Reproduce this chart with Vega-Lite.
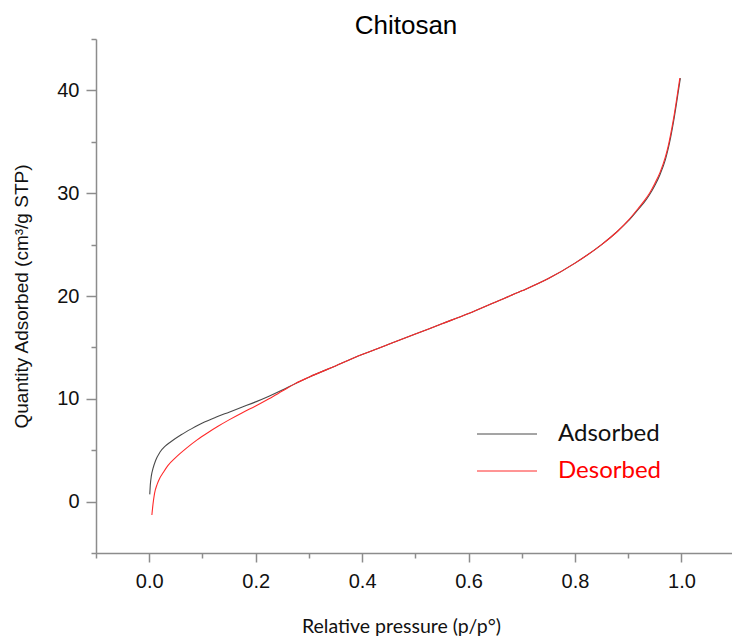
{
  "$schema": "https://vega.github.io/schema/vega-lite/v6.json",
  "width": 636,
  "height": 514,
  "autosize": {"type": "none"},
  "padding": {"left": 96, "top": 39, "right": 0, "bottom": 86},
  "background": "white",
  "title": {"text": "Chitosan", "font": "Liberation Sans", "fontSize": 26, "fontWeight": "normal", "color": "#000000", "anchor": "middle", "dx": -8, "offset": -10},
  "config": {"view": {"stroke": null}},
  "data": {"values": [
    {"series": "Adsorbed", "x": 0.001, "y": 0.7},
    {"series": "Adsorbed", "x": 0.002, "y": 1.6},
    {"series": "Adsorbed", "x": 0.004, "y": 2.5},
    {"series": "Adsorbed", "x": 0.007, "y": 3.2},
    {"series": "Adsorbed", "x": 0.012, "y": 4.0},
    {"series": "Adsorbed", "x": 0.02, "y": 4.8},
    {"series": "Adsorbed", "x": 0.03, "y": 5.4},
    {"series": "Adsorbed", "x": 0.04, "y": 5.8},
    {"series": "Adsorbed", "x": 0.06, "y": 6.5},
    {"series": "Adsorbed", "x": 0.08, "y": 7.1},
    {"series": "Adsorbed", "x": 0.1, "y": 7.65},
    {"series": "Adsorbed", "x": 0.125, "y": 8.2},
    {"series": "Adsorbed", "x": 0.15, "y": 8.7},
    {"series": "Adsorbed", "x": 0.175, "y": 9.2},
    {"series": "Adsorbed", "x": 0.2, "y": 9.7},
    {"series": "Adsorbed", "x": 0.225, "y": 10.25},
    {"series": "Adsorbed", "x": 0.25, "y": 10.85},
    {"series": "Adsorbed", "x": 0.275, "y": 11.5},
    {"series": "Adsorbed", "x": 0.3, "y": 12.1},
    {"series": "Adsorbed", "x": 0.35, "y": 13.2},
    {"series": "Adsorbed", "x": 0.4, "y": 14.3},
    {"series": "Adsorbed", "x": 0.45, "y": 15.3},
    {"series": "Adsorbed", "x": 0.5, "y": 16.3},
    {"series": "Adsorbed", "x": 0.55, "y": 17.3},
    {"series": "Adsorbed", "x": 0.6, "y": 18.3},
    {"series": "Adsorbed", "x": 0.65, "y": 19.4},
    {"series": "Adsorbed", "x": 0.7, "y": 20.5},
    {"series": "Adsorbed", "x": 0.75, "y": 21.7},
    {"series": "Adsorbed", "x": 0.8, "y": 23.2},
    {"series": "Adsorbed", "x": 0.85, "y": 25.0},
    {"series": "Adsorbed", "x": 0.88, "y": 26.3},
    {"series": "Adsorbed", "x": 0.9, "y": 27.3},
    {"series": "Adsorbed", "x": 0.92, "y": 28.5},
    {"series": "Adsorbed", "x": 0.93, "y": 29.1},
    {"series": "Adsorbed", "x": 0.94, "y": 29.85},
    {"series": "Adsorbed", "x": 0.95, "y": 30.75},
    {"series": "Adsorbed", "x": 0.96, "y": 31.85},
    {"series": "Adsorbed", "x": 0.97, "y": 33.3},
    {"series": "Adsorbed", "x": 0.975, "y": 34.3},
    {"series": "Adsorbed", "x": 0.98, "y": 35.5},
    {"series": "Adsorbed", "x": 0.985, "y": 36.9},
    {"series": "Adsorbed", "x": 0.99, "y": 38.5},
    {"series": "Adsorbed", "x": 0.995, "y": 40.2},
    {"series": "Adsorbed", "x": 0.998, "y": 41.2},
    {"series": "Desorbed", "x": 0.005, "y": -1.3},
    {"series": "Desorbed", "x": 0.007, "y": -0.3},
    {"series": "Desorbed", "x": 0.01, "y": 0.8},
    {"series": "Desorbed", "x": 0.015, "y": 1.7},
    {"series": "Desorbed", "x": 0.02, "y": 2.3},
    {"series": "Desorbed", "x": 0.026, "y": 2.8},
    {"series": "Desorbed", "x": 0.035, "y": 3.5},
    {"series": "Desorbed", "x": 0.05, "y": 4.3},
    {"series": "Desorbed", "x": 0.07, "y": 5.2},
    {"series": "Desorbed", "x": 0.09, "y": 6.0},
    {"series": "Desorbed", "x": 0.11, "y": 6.7},
    {"series": "Desorbed", "x": 0.13, "y": 7.35},
    {"series": "Desorbed", "x": 0.15, "y": 7.95},
    {"series": "Desorbed", "x": 0.175, "y": 8.65},
    {"series": "Desorbed", "x": 0.2, "y": 9.3},
    {"series": "Desorbed", "x": 0.225, "y": 10.0},
    {"series": "Desorbed", "x": 0.25, "y": 10.75},
    {"series": "Desorbed", "x": 0.275, "y": 11.5},
    {"series": "Desorbed", "x": 0.3, "y": 12.1},
    {"series": "Desorbed", "x": 0.35, "y": 13.2},
    {"series": "Desorbed", "x": 0.4, "y": 14.3},
    {"series": "Desorbed", "x": 0.45, "y": 15.3},
    {"series": "Desorbed", "x": 0.5, "y": 16.3},
    {"series": "Desorbed", "x": 0.55, "y": 17.3},
    {"series": "Desorbed", "x": 0.6, "y": 18.3},
    {"series": "Desorbed", "x": 0.65, "y": 19.4},
    {"series": "Desorbed", "x": 0.7, "y": 20.5},
    {"series": "Desorbed", "x": 0.75, "y": 21.7},
    {"series": "Desorbed", "x": 0.8, "y": 23.2},
    {"series": "Desorbed", "x": 0.85, "y": 25.0},
    {"series": "Desorbed", "x": 0.88, "y": 26.3},
    {"series": "Desorbed", "x": 0.9, "y": 27.35},
    {"series": "Desorbed", "x": 0.92, "y": 28.6},
    {"series": "Desorbed", "x": 0.93, "y": 29.25},
    {"series": "Desorbed", "x": 0.94, "y": 30.0},
    {"series": "Desorbed", "x": 0.95, "y": 30.95},
    {"series": "Desorbed", "x": 0.96, "y": 32.05},
    {"series": "Desorbed", "x": 0.97, "y": 33.55},
    {"series": "Desorbed", "x": 0.975, "y": 34.55},
    {"series": "Desorbed", "x": 0.98, "y": 35.8},
    {"series": "Desorbed", "x": 0.985, "y": 37.2},
    {"series": "Desorbed", "x": 0.99, "y": 38.8},
    {"series": "Desorbed", "x": 0.997, "y": 41.2}
  ]},
  "mark": {"type": "line", "interpolate": "monotone", "strokeWidth": 1.1, "clip": true},
  "encoding": {
    "x": {
      "field": "x", "type": "quantitative",
      "scale": {"domain": [-0.1, 1.095], "nice": false, "zero": false},
      "axis": {
        "values": [-0.1, 0, 0.1, 0.2, 0.3, 0.4, 0.5, 0.6, 0.7, 0.8, 0.9, 1.0],
        "format": ".1f",
        "labelExpr": "round(datum.value*10) % 2 === 0 ? datum.label : ''",
        "tickSize": {"condition": {"test": "round(datum.value*10) % 2 === 0", "value": 9}, "value": 5},
        "grid": false,
        "domainColor": "#8c8c8c",
        "tickColor": "#8c8c8c",
        "domainWidth": 1.5,
        "tickWidth": 1.5,
        "labelFont": "Liberation Sans",
        "labelFontSize": 20,
        "labelColor": "#111111",
        "labelPadding": 9,
        "labelFlush": false,
        "labelOverlap": false,
        "title": "Relative pressure (p/p°)",
        "titleFont": "Lato",
        "titleFontSize": 19.5,
        "titleFontWeight": "normal",
        "titleColor": "#111111",
        "titleBaseline": "alphabetic",
        "titleX": 305,
        "titleY": 79
      }
    },
    "y": {
      "field": "y", "type": "quantitative",
      "scale": {"domain": [-5, 45], "nice": false, "zero": false},
      "axis": {
        "values": [-5, 0, 5, 10, 15, 20, 25, 30, 35, 40, 45],
        "labelExpr": "datum.value % 10 === 0 ? datum.label : ''",
        "tickSize": {"condition": {"test": "datum.value % 10 === 0", "value": 10}, "value": 5},
        "grid": false,
        "domainColor": "#8c8c8c",
        "tickColor": "#8c8c8c",
        "domainWidth": 1.5,
        "tickWidth": 1.5,
        "labelFont": "Liberation Sans",
        "labelFontSize": 20,
        "labelColor": "#111111",
        "labelPadding": 7,
        "labelOverlap": false,
        "title": "Quantity Adsorbed (cm³/g STP)",
        "titleFont": "Liberation Sans",
        "titleFontSize": 19,
        "titleFontWeight": "normal",
        "titleColor": "#111111",
        "titleBaseline": "alphabetic",
        "titleX": -69
      }
    },
    "color": {
      "field": "series", "type": "nominal",
      "scale": {"domain": ["Adsorbed", "Desorbed"], "range": ["#4a4a4a", "#ff2a2a"]},
      "legend": {
        "orient": "none",
        "legendX": 399,
        "legendY": 383,
        "title": null,
        "symbolType": "M-3,0H3",
        "symbolSize": 400,
        "symbolStrokeWidth": 1,
        "labelFont": "Lato",
        "labelFontSize": 24,
        "labelOffset": 39,
        "rowPadding": 13,
        "labelColor": {"expr": "datum.label === 'Desorbed' ? '#ff0000' : '#111111'"}
      }
    }
  }
}
